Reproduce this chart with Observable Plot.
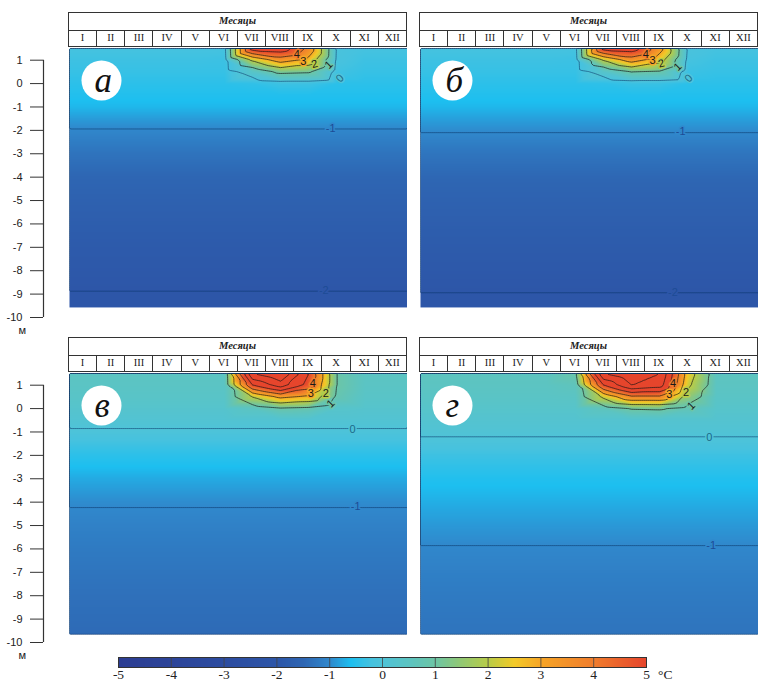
<!DOCTYPE html>
<html><head><meta charset="utf-8">
<script src="https://cdn.jsdelivr.net/npm/d3@7"></script>
<script src="https://cdn.jsdelivr.net/npm/@observablehq/plot@0.6"></script>
<style>
body{margin:0;background:#fff;}
#fig{position:relative;width:762px;height:686px;overflow:hidden;background:#fff;}
.hdr{position:absolute;width:339px;height:35px;}
.hdr table{border-collapse:collapse;width:100%;height:100%;table-layout:fixed;border:1.5px solid #333;}
.hdr td{border:1.2px solid #333;text-align:center;padding:0;font-family:"Liberation Serif",serif;font-size:10.5px;line-height:1;color:#222;}
.hdr tr.t td{font-weight:bold;font-style:italic;height:17px;font-size:10.5px;}
.pl{position:absolute;}
</style></head><body><div id="fig"></div>
<script>
// ---------- data ----------
const monthLabels = ["I","II","III","IV","V","VI","VII","VIII","IX","X","XI","XII"];
// sample columns: panel edges plus month centres
const sampleMonths = [0.5, 1, 2, 3, 4, 5, 6, 7, 8, 9, 10, 11, 12, 12.5];
const depths = [1.5, 1.0, 0.5, 0, -0.5, -1, -1.5, -2, -3, -4, -5, -6, -7, -8, -9, -9.7];
const yTicks = [1,0,-1,-2,-3,-4,-5,-6,-7,-8,-9,-10];
const panelLetters = ["а","б","в","г"];

// background temperature profile by depth (°C)
const profileA = [-0.2, -0.28, -0.35, -0.45, -0.55, -0.65, -0.85, -1.02, -1.3, -1.5, -1.65, -1.76, -1.86, -1.93, -2.01, -2.05];
const profileB = [-0.2, -0.28, -0.35, -0.45, -0.55, -0.65, -0.82, -0.97, -1.28, -1.48, -1.63, -1.74, -1.84, -1.92, -2.005, -2.03];
const profileC = [0.5, 0.45, 0.38, 0.25, 0.12, -0.05, -0.25, -0.45, -0.75, -0.97, -1.1, -1.2, -1.28, -1.35, -1.4, -1.44];
const profileD = [0.55, 0.5, 0.42, 0.3, 0.18, 0.07, -0.1, -0.28, -0.55, -0.72, -0.88, -1.02, -1.12, -1.2, -1.26, -1.3];

// summer warm zone: rows = depths 1.5, 1.0, 0.5, 0
const warmMonthsA = [6,7,8,9,10];
const warmA = [
  [-0.2, 5.5, 5.7, 3.7, -0.1],
  [-0.3, 2.1, 3.4, 2.7, -0.15],
  [-0.35, 0.35, 1.2, 1.1, -0.25],
  [-0.45, -0.4, -0.28, -0.28, -0.45]];
const warmMonthsB = [6,7,8,9,10];
const warmB = [
  [-0.2, 5.4, 5.6, 3.4, -0.1],
  [-0.3, 2.0, 3.4, 2.4, -0.2],
  [-0.35, 0.3, 1.0, 0.9, -0.3],
  [-0.45, -0.42, -0.32, -0.32, -0.45]];
const warmMonthsC = [6,7,8,9,10];
const warmC = [
  [0.5, 7.0, 8.0, 5.0, 0.95],
  [0.45, 5.0, 6.5, 4.6, 0.95],
  [0.38, 2.0, 3.2, 2.8, 0.8],
  [0.25, 0.5, 0.9, 0.8, 0.3]];
const warmMonthsD = [6,7,8,9,10,11];
const warmD = [
  [0.9, 7.0, 8.0, 7.0, 2.5, 0.55],
  [0.6, 5.0, 7.0, 6.5, 2.2, 0.5],
  [0.45, 2.2, 3.8, 3.8, 1.5, 0.42],
  [0.3, 0.6, 1.05, 1.1, 0.7, 0.3]];

// contour labels
const labelTextAB = ["4","3","2","1","0","-1","-2"];
const labelValueAB = [4,3,2,1,0,-1,-2];
const labelMonthA = [8.57, 8.8, 9.2, 9.7, 10.1, 9.77, 9.53];
const labelDepthA = [1.24, 0.94, 0.84, 0.8, 0.22, -1.92, -8.84];
const labelMonthB = [8.5, 8.74, 9.05, 9.63, 10.02, 9.74, 9.46];
const labelDepthB = [1.24, 0.98, 0.86, 0.72, 0.22, -2.05, -8.93];
const labelRotateAB = [0, 0, -15, -45, -45, 0, 0];
const labelTextCD = ["4","3","2","1","0","-1"];
const labelValueCD = [4,3,2,1,0,-1];
const labelMonthC = [9.14, 9.07, 9.6, 9.77, 10.55, 10.66];
const labelDepthC = [1.07, 0.64, 0.64, 0.21, -0.89, -4.2];
const labelMonthD = [9.47, 9.33, 9.93, 10.11, 10.75, 10.82];
const labelDepthD = [1.07, 0.6, 0.68, 0.12, -1.25, -5.86];
const labelRotateCD = [0, 0, 0, -45, 0, 0];

// colour bar
const colorStops = [-5, -4, -3, -2, -1.5, -1, -0.6, -0.2, 0, 0.5, 1, 1.5, 2, 2.5, 3, 4, 5];
const colorHex = ["#2c3d92","#2c4499","#2c4ca0","#2d56a8","#2e66b3","#3088cc","#1dbff0","#46c2df","#4fc3d8","#5cc4c2","#6dc5a5","#93c872","#b8cc48","#f3ca28","#f6a526","#f07d2c","#e6452c"];
const colorTicks = [-5,-4,-3,-2,-1,0,1,2,3,4,5];
const warmThresholds = [1,2,3,4,5,6,7];
const coldThresholds = [-2,-1,0];

// ---------- build ----------
const colorOpts = {type: "linear", domain: colorStops, range: colorHex, clamp: true, interpolate: "rgb"};
const xDomain = [0.5, 12.5];
const yDomain = [-10, 1.5];

function buildGrid(profile, warmMonths, warm) {
  const rows = [];
  for (const m of sampleMonths) {
    const wi = warmMonths.indexOf(m);
    depths.forEach((d, i) => {
      const v = (wi >= 0 && i < warm.length) ? warm[i][wi] : profile[i];
      rows.push({m, d, v});
    });
  }
  return rows;
}
function buildLabels(text, value, mon, dep, rot) {
  return text.map((t, i) => ({t, v: value[i], m: mon[i], d: dep[i], r: rot[i]}));
}

const fig = document.getElementById("fig");

function header(left, top) {
  const div = document.createElement("div");
  div.className = "hdr";
  div.style.left = left + "px";
  div.style.top = top + "px";
  div.innerHTML = `<table><tr class="t"><td colspan="12">Месяцы</td></tr><tr>${monthLabels.map(m => `<td>${m}</td>`).join("")}</tr></table>`;
  fig.appendChild(div);
}

function panel({grid, labels, letter, left, top, showAxis, bottom}) {
  const ext = {x1: xDomain[0], x2: xDomain[1], y1: bottom, y2: yDomain[1]};
  const marks = [
    Plot.raster(grid, {x: "m", y: "d", fill: "v", interpolate: "barycentric", pixelSize: 1, ...ext}),
    Plot.contour(grid, {x: "m", y: "d", value: "v", interpolate: "barycentric", thresholds: warmThresholds, fill: "none", stroke: "#151515", strokeOpacity: 0.75, strokeWidth: 0.9, ...ext}),
    Plot.contour(grid, {x: "m", y: "d", value: "v", interpolate: "barycentric", thresholds: coldThresholds, fill: "none", stroke: "#0a3466", strokeOpacity: 0.55, strokeWidth: 1, ...ext}),
    Plot.text(labels, {x: "m", y: "d", text: "t", rotate: "r", stroke: "v", strokeWidth: 3, paintOrder: "stroke",
      fill: d => d.v > 0 ? "#1a1a1a" : d.v === 0 ? "#1c6a88" : "#1d4c96", fontSize: 11}),
    Plot.dot([letter], {frameAnchor: "top-left", dx: 32, dy: 32, r: 20, fill: "white", stroke: "none"}),
    Plot.text([letter], {frameAnchor: "top-left", dx: 25, dy: 19, text: d => d, fill: "#111",
      fontFamily: "Liberation Serif, serif", fontStyle: "italic", fontSize: 35})
  ];
  if (showAxis) {
    marks.push(
      Plot.axisY({ticks: yTicks, anchor: "left", label: null, tickSize: 13, tickPadding: 8, dx: -26, tickFormat: d => String(d), stroke: "#333", fill: "#222", fontSize: 11}),
      Plot.ruleX([xDomain[0]], {y1: yTicks[0], y2: yTicks[yTicks.length - 1], dx: -26, stroke: "#333", strokeWidth: 1.2}),
      Plot.text(["м"], {frameAnchor: "bottom-left", dx: -51, dy: 16, text: d => d, fill: "#222", fontSize: 11})
    );
  }
  const width = showAxis ? 407 : 338;
  const svg = Plot.plot({
    width, height: 297,
    marginLeft: showAxis ? 69 : 0, marginRight: 0, marginTop: 8, marginBottom: 20,
    x: {domain: xDomain, axis: null},
    y: {domain: yDomain, axis: null},
    color: colorOpts,
    style: {background: "transparent", fontFamily: "Liberation Sans, Arial, sans-serif", fontSize: "11px"},
    marks
  });
  svg.classList.add("pl");
  svg.style.left = left + "px";
  svg.style.top = top + "px";
  svg.style.position = "absolute";
  fig.appendChild(svg);
}

header(68, 12); header(419, 12); header(68, 337); header(419, 337);

panel({grid: buildGrid(profileA, warmMonthsA, warmA), labels: buildLabels(labelTextAB, labelValueAB, labelMonthA, labelDepthA, labelRotateAB), letter: panelLetters[0], left: 0, top: 40, showAxis: true, bottom: -9.57});
panel({grid: buildGrid(profileB, warmMonthsB, warmB), labels: buildLabels(labelTextAB, labelValueAB, labelMonthB, labelDepthB, labelRotateAB), letter: panelLetters[1], left: 420, top: 40, showAxis: false, bottom: -9.57});
panel({grid: buildGrid(profileC, warmMonthsC, warmC), labels: buildLabels(labelTextCD, labelValueCD, labelMonthC, labelDepthC, labelRotateCD), letter: panelLetters[2], left: 0, top: 365, showAxis: true, bottom: -9.65});
panel({grid: buildGrid(profileD, warmMonthsD, warmD), labels: buildLabels(labelTextCD, labelValueCD, labelMonthD, labelDepthD, labelRotateCD), letter: panelLetters[3], left: 420, top: 365, showAxis: false, bottom: -9.65});

// colour bar
const cb = Plot.plot({
  width: 600, height: 36, marginLeft: 18, marginRight: 54, marginTop: 7, marginBottom: 19,
  x: {domain: [colorTicks[0], colorTicks[colorTicks.length - 1]], axis: null},
  y: {domain: [0, 1], axis: null},
  color: colorOpts,
  style: {background: "transparent", fontFamily: "Liberation Serif, serif", fontSize: "13.5px"},
  marks: [
    Plot.raster({fill: (x, y) => x, x1: colorTicks[0], x2: colorTicks[colorTicks.length - 1], y1: 0, y2: 1, pixelSize: 1}),
    Plot.ruleX(colorTicks, {y1: 0, y2: 1, stroke: "#444", strokeWidth: 0.8}),
    Plot.frame({stroke: "#333"}),
    Plot.text(colorTicks, {x: d => d, frameAnchor: "bottom", dy: 11, text: d => String(d), fill: "#222"}),
    Plot.text(["°C"], {frameAnchor: "bottom-right", dx: 26, dy: 11, text: d => d, fill: "#222"})
  ]
});
cb.style.position = "absolute";
cb.style.left = "100px";
cb.style.top = "650px";
fig.appendChild(cb);
</script>
</body></html>
